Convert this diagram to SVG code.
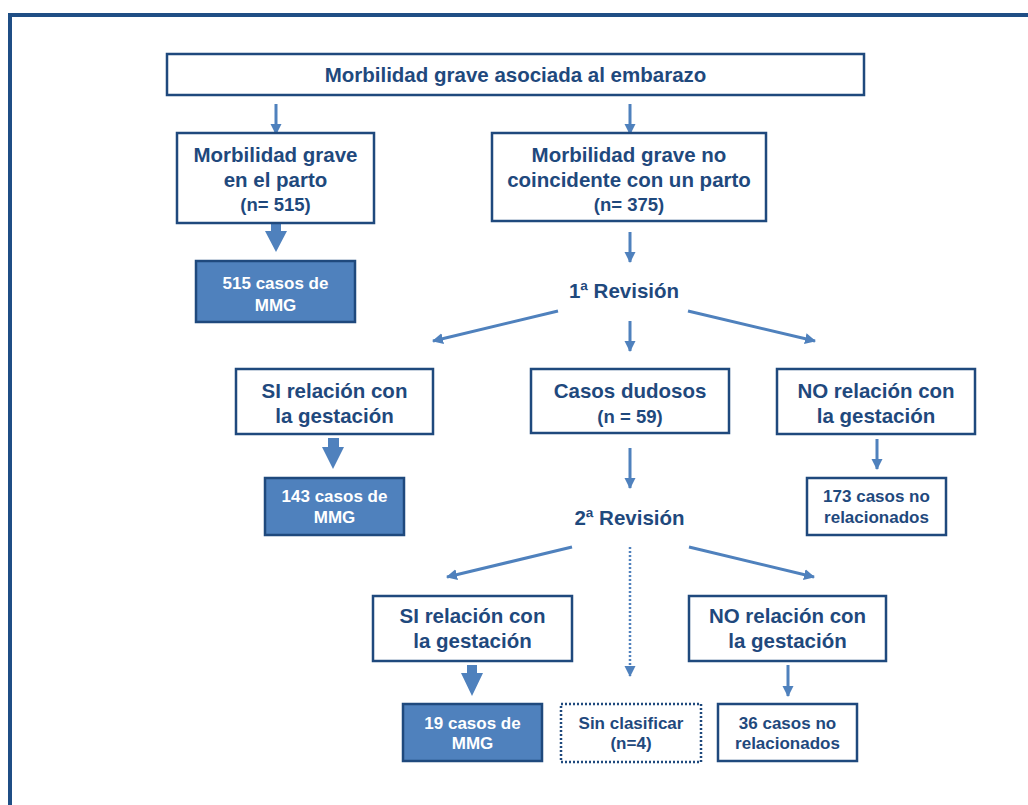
<svg xmlns="http://www.w3.org/2000/svg" width="1028" height="805" viewBox="0 0 1028 805">
<defs>
<marker id="ah" markerUnits="userSpaceOnUse" markerWidth="12" markerHeight="12" refX="10" refY="6" orient="auto">
<path d="M0,0.5 L11,6 L0,11.5 z" fill="#4f81bd"/>
</marker>
<style>
.box{fill:#ffffff;stroke:#1f497d;stroke-width:2.5}
.fbox{fill:#4f81bd;stroke:#1f497d;stroke-width:2.5}
.dbox{fill:#ffffff;stroke:#1f497d;stroke-width:2.5;stroke-dasharray:2 2}
.t{font-family:"Liberation Sans",Arial,sans-serif;font-weight:bold;fill:#1f497d;text-anchor:middle}
.L{font-size:20.5px}
.M{font-size:18.5px}
.S{font-size:17px}
.w{fill:#ffffff}
.a{stroke:#4f81bd;stroke-width:3;fill:none;marker-end:url(#ah)}
.ad{stroke:#4f81bd;stroke-width:2.5;fill:none;stroke-dasharray:2 2;marker-end:url(#ah)}
.ta{fill:#4f81bd}
</style>
</defs>
<rect x="10" y="15" width="1030" height="800" fill="#ffffff" stroke="#1f4e85" stroke-width="4"/>

<g id="connectors">
<line class="a" x1="276" y1="104" x2="276" y2="134"/>
<line class="a" x1="630" y1="104" x2="630" y2="134"/>
<polygon class="ta" points="271,223 281,223 281,231 287,231 276,252 265,231 271,231"/>
<line class="a" x1="630" y1="232" x2="630" y2="262"/>
<line class="a" x1="558" y1="311" x2="433" y2="341"/>
<line class="a" x1="630" y1="321" x2="630" y2="351"/>
<line class="a" x1="688" y1="311" x2="815" y2="341"/>
<polygon class="ta" points="328,438 339,438 339,447 344,447 333,469 322,447 328,447"/>
<line class="a" x1="877" y1="439" x2="877" y2="469"/>
<line class="a" x1="630" y1="448" x2="630" y2="488"/>
<line class="a" x1="572" y1="547" x2="447" y2="577"/>
<line class="ad" x1="630" y1="547" x2="630" y2="676"/>
<line class="a" x1="689" y1="547" x2="814" y2="577"/>
<polygon class="ta" points="467,665 477,665 477,673 483,673 472,696 461,673 467,673"/>
<line class="a" x1="788" y1="665" x2="788" y2="696"/>
</g>

<g id="n-root">
<rect class="box" x="167" y="54" width="697" height="41"/>
<text class="t L" x="515.5" y="82">Morbilidad grave asociada al embarazo</text>
</g>
<g id="n-parto">
<rect class="box" x="177" y="133" width="197" height="90"/>
<text class="t L" x="275.5" y="162">Morbilidad grave</text>
<text class="t L" x="275.5" y="187">en el parto</text>
<text class="t M" x="275.5" y="211">(n= 515)</text>
</g>
<g id="n-noparto">
<rect class="box" x="492" y="133" width="274" height="88"/>
<text class="t L" x="629" y="162">Morbilidad grave no</text>
<text class="t L" x="629" y="187">coincidente con un parto</text>
<text class="t M" x="629" y="211">(n= 375)</text>
</g>
<g id="n-515">
<rect class="fbox" x="196" y="261" width="159" height="61"/>
<text class="t S w" x="275.5" y="289">515 casos de</text>
<text class="t S w" x="275.5" y="311">MMG</text>
</g>
<g id="n-rev1">
<text class="t L" x="624" y="298">1ª Revisión</text>
</g>
<g id="n-si1">
<rect class="box" x="236" y="369" width="197" height="65"/>
<text class="t L" x="334.5" y="398">SI relación con</text>
<text class="t L" x="334.5" y="423">la gestación</text>
</g>
<g id="n-dudosos">
<rect class="box" x="531" y="369" width="198" height="64"/>
<text class="t L" x="630" y="398">Casos dudosos</text>
<text class="t M" x="630" y="423">(n = 59)</text>
</g>
<g id="n-no1">
<rect class="box" x="777" y="369" width="198" height="65"/>
<text class="t L" x="876" y="398">NO relación con</text>
<text class="t L" x="876" y="423">la gestación</text>
</g>
<g id="n-143">
<rect class="fbox" x="265" y="478" width="139" height="57"/>
<text class="t S w" x="334.5" y="502">143 casos de</text>
<text class="t S w" x="334.5" y="523">MMG</text>
</g>
<g id="n-173">
<rect class="box" x="807" y="478" width="139" height="57"/>
<text class="t S" x="876.5" y="502">173 casos no</text>
<text class="t S" x="876.5" y="523">relacionados</text>
</g>
<g id="n-rev2">
<text class="t L" x="629.5" y="525">2ª Revisión</text>
</g>
<g id="n-si2">
<rect class="box" x="373" y="596" width="199" height="65"/>
<text class="t L" x="472.5" y="623">SI relación con</text>
<text class="t L" x="472.5" y="648">la gestación</text>
</g>
<g id="n-no2">
<rect class="box" x="689" y="596" width="197" height="65"/>
<text class="t L" x="787.5" y="623">NO relación con</text>
<text class="t L" x="787.5" y="648">la gestación</text>
</g>
<g id="n-19">
<rect class="fbox" x="403" y="704" width="139" height="57"/>
<text class="t S w" x="472.5" y="729">19 casos de</text>
<text class="t S w" x="472.5" y="749">MMG</text>
</g>
<g id="n-sin">
<rect class="dbox" x="561" y="704" width="140" height="58"/>
<text class="t S" x="631" y="729">Sin clasificar</text>
<text class="t S" x="631" y="749">(n=4)</text>
</g>
<g id="n-36">
<rect class="box" x="718" y="704" width="139" height="57"/>
<text class="t S" x="787.5" y="729">36 casos no</text>
<text class="t S" x="787.5" y="749">relacionados</text>
</g>
</svg>
